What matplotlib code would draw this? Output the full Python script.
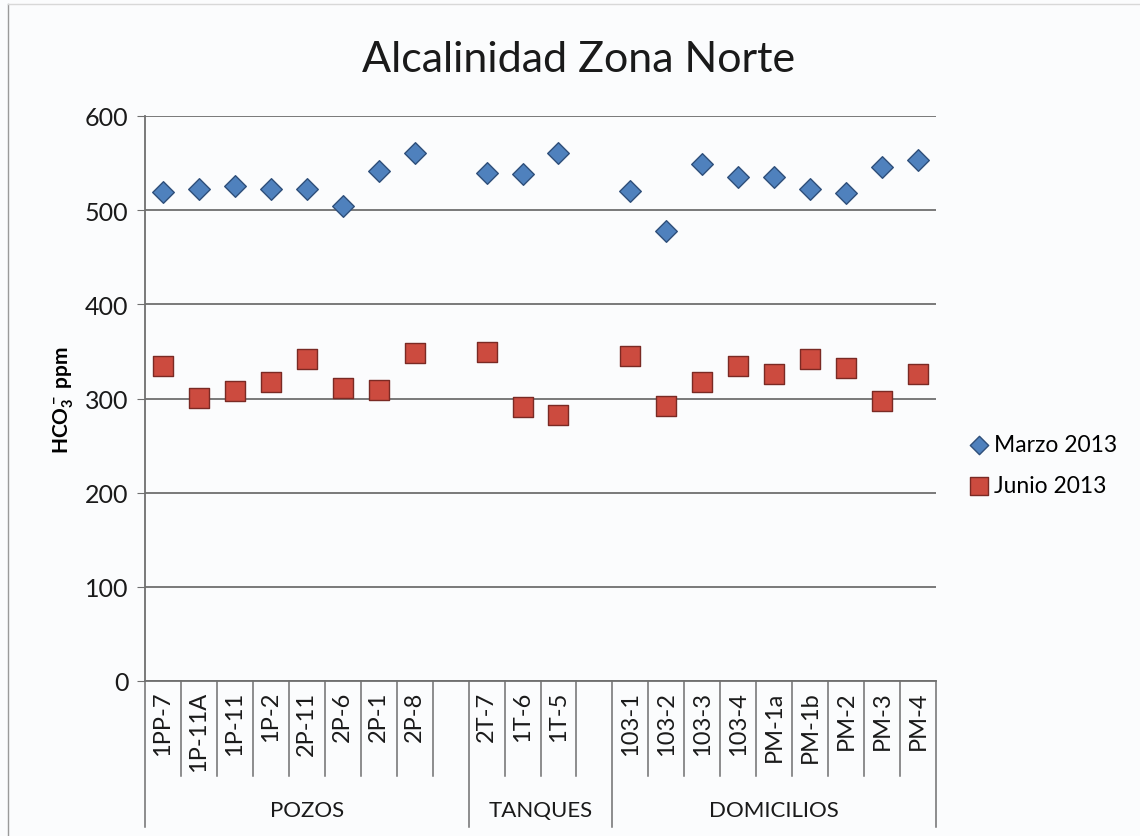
import matplotlib
matplotlib.use("Agg")
import matplotlib.pyplot as plt
from matplotlib.lines import Line2D
import matplotlib.transforms as mtransforms

plt.rcParams['font.family'] = ['Lato', 'DejaVu Sans']
plt.rcParams['mathtext.fontset'] = 'custom'
plt.rcParams['mathtext.rm'] = 'Lato:bold'
plt.rcParams['mathtext.it'] = 'Lato:bold'
plt.rcParams['mathtext.bf'] = 'Lato:bold'

# Sampling points per group
pozos = ["1PP-7", "1P-11A", "1P-11", "1P-2", "2P-11", "2P-6", "2P-1", "2P-8"]
tanques = ["2T-7", "1T-6", "1T-5"]
domicilios = ["103-1", "103-2", "103-3", "103-4", "PM-1a", "PM-1b", "PM-2", "PM-3", "PM-4"]
group_names = ["POZOS", "TANQUES", "DOMICILIOS"]

# Alkalinity (ppm HCO3-)
marzo_pozos = [519, 522, 526, 522, 523, 504, 542, 561]
marzo_tanques = [540, 538, 561]
marzo_domicilios = [520, 478, 549, 535, 535, 522, 518, 546, 553]

junio_pozos = [335, 301, 308, 317, 342, 311, 309, 348]
junio_tanques = [349, 291, 282]
junio_domicilios = [345, 292, 317, 334, 326, 342, 332, 297, 326]

yticks = [0, 100, 200, 300, 400, 500, 600]

# Build slot layout: one empty slot between groups
groups = [pozos, tanques, domicilios]
marzo_groups = [marzo_pozos, marzo_tanques, marzo_domicilios]
junio_groups = [junio_pozos, junio_tanques, junio_domicilios]

xs, labels, mz, jn = [], [], [], []
group_spans = []
pos = 0
for gi, g in enumerate(groups):
    start = pos
    for k, name in enumerate(g):
        xs.append(pos)
        labels.append(name)
        mz.append(marzo_groups[gi][k])
        jn.append(junio_groups[gi][k])
        pos += 1
    if gi < len(groups) - 1:
        pos += 1  # empty slot
    group_spans.append((start - 0.5, pos - 0.5))
n_slots = pos

fig = plt.figure(figsize=(11.4, 8.37), dpi=100)
fig.patch.set_facecolor('#fbfcfd')
ax = fig.add_axes([145 / 1140, 1 - 682 / 837, (936 - 145) / 1140, (682 - 117) / 837])
ax.set_facecolor('#fbfcfd')

ax.set_xlim(-0.5, n_slots - 0.5)
ax.set_ylim(0, 600)
ax.set_yticks(yticks)
ax.yaxis.grid(True, color='#6f6f6f', linewidth=1.3)
ax.set_axisbelow(True)
for s in ['top', 'right']:
    ax.spines[s].set_visible(False)
for s in ['left', 'bottom']:
    ax.spines[s].set_color('#6f6f6f')
    ax.spines[s].set_linewidth(1.3)
ax.tick_params(axis='y', length=6, color='#6f6f6f', labelsize=18, pad=6, labelcolor='#1a1a1a')

ax.set_xticks(xs)
ax.set_xticklabels(labels, rotation=90, fontsize=17, color='#1a1a1a')
ax.tick_params(axis='x', length=0, pad=7)

ax.scatter(xs, mz, marker='D', s=11 ** 2, facecolor='#4f81bd', edgecolor='#2f4f7a',
           linewidth=1.0, zorder=3, label='Marzo 2013')
ax.scatter(xs, jn, marker='s', s=15 ** 2, facecolor='#cc4b3f', edgecolor='#7a2a24',
           linewidth=1.0, zorder=3, label='Junio 2013')

ax.set_ylabel(r'HCO$_3^-$ ppm', fontsize=15, fontweight='bold', labelpad=6)

# Category dividers below the axis
trans = mtransforms.blended_transform_factory(ax.transData, ax.transAxes)
short_y = -95 / 565
long_y = -146 / 565
label_y = -129 / 565
long_positions = set([-0.5] + [sp[1] for sp in group_spans])
for b in range(n_slots + 1):
    xb = b - 0.5
    ybot = long_y if xb in long_positions else short_y
    ax.add_line(Line2D([xb, xb], [0, ybot], transform=trans, color='#6f6f6f',
                       linewidth=1.1, clip_on=False))
for name, (a, b) in zip(group_names, group_spans):
    ax.text((a + b) / 2, label_y, name, transform=trans, ha='center', va='center',
            fontsize=16, color='#1a1a1a')

fig.text((362 + 795) / 2 / 1140, 1 - 60 / 837, 'Alcalinidad Zona Norte',
         ha='center', va='center', fontsize=31, color='#1a1a1a')

leg = fig.legend(loc='center left', bbox_to_anchor=(966 / 1140, 1 - 466 / 837),
                 frameon=False, fontsize=16.5, handletextpad=0.2, labelspacing=0.9,
                 markerscale=0.85, borderpad=0.1, borderaxespad=0.0, handlelength=0.9)

# Outer chart frame edges
fig.add_artist(Line2D([8 / 1140, 8 / 1140], [0, 1 - 5 / 837], transform=fig.transFigure,
                      color='#9a9a9a', linewidth=1.0))
fig.add_artist(Line2D([8 / 1140, 1], [1 - 5 / 837, 1 - 5 / 837], transform=fig.transFigure,
                      color='#d8d8d8', linewidth=1.0))

fig.savefig('out.png', dpi=100, facecolor=fig.get_facecolor())
